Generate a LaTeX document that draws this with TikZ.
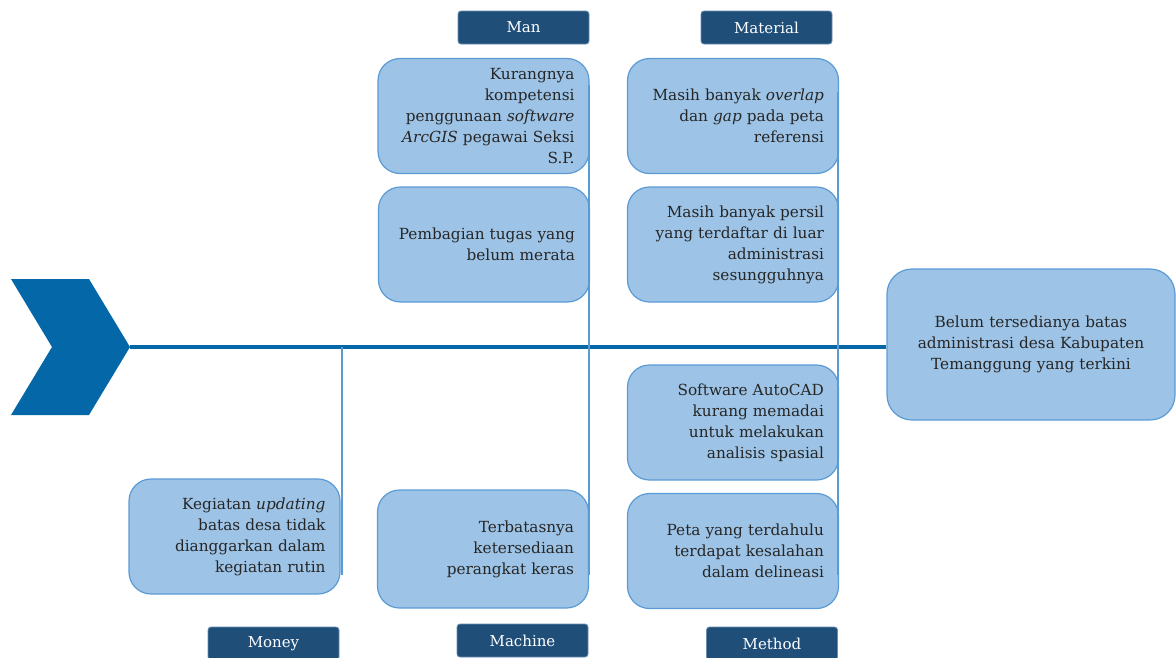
\documentclass[tikz,border=0pt]{standalone}
\usepackage{fontspec}
\setmainfont{DejaVu Serif}
\definecolor{boxfill}{HTML}{9DC3E6}
\definecolor{boxline}{HTML}{5B9BD5}
\definecolor{catfill}{HTML}{1F4E79}
\definecolor{catline}{HTML}{6A8DB0}
\definecolor{spine}{HTML}{0467A8}
\definecolor{txt}{HTML}{262626}
\begin{document}
\begin{tikzpicture}[x=1pt,y=-1pt,
  cause/.style={draw=boxline, line width=1.2pt, fill=boxfill, rounded corners=22pt,
    minimum height=115pt, text width=182pt, inner xsep=14.5pt, inner ysep=2pt,
    align=right, text=txt, font=\fontsize{15.3}{21}\selectfont},
  effectbox/.style={draw=boxline, line width=1.2pt, fill=boxfill, rounded corners=25pt,
    minimum height=151pt, text width=272pt, inner xsep=8pt, align=center, text=txt,
    font=\fontsize{15.3}{21}\selectfont},
  cat/.style={draw=catline, line width=0.8pt, fill=catfill, rounded corners=3pt,
    minimum width=131pt, minimum height=33pt, inner sep=0pt, text=white,
    font=\fontsize{15}{18}\selectfont},
  bone/.style={draw=boxline, line width=1.6pt}
]
\useasboundingbox (0,0) rectangle (1176,657);
\clip (0,0) rectangle (1176,657);
% head chevron
\fill[spine] (11,279) -- (89,279) -- (130,347) -- (89,415) -- (11,415) -- (52,347) -- cycle;
\coordinate (tip) at (130,347);
% effect
\node[effectbox] (effect) at (1031,344.5) {Belum tersedianya batas\\administrasi desa Kabupaten\\Temanggung yang terkini};
% spine
\draw[spine, line width=4.5pt] (tip) -- (tip -| effect.west);
% bones
\coordinate (manTop) at (589,85);
\coordinate (matTop) at (838,92);
\coordinate (metBot) at (838,575);
\coordinate (macBot) at (589,575);
\coordinate (monBot) at (342,575);
% cause boxes
\node[cause] (man1) at (483.5,116) {Kurangnya\\kompetensi\\penggunaan \textit{software}\\\textit{ArcGIS} pegawai Seksi\\S.P.};
\node[cause] (man2) at (484,244.5) {Pembagian tugas yang\\belum merata};
\node[cause] (mat1) at (733,116) {Masih banyak \textit{overlap}\\dan \textit{gap} pada peta\\referensi};
\node[cause] (mat2) at (733,244.5) {Masih banyak persil\\yang terdaftar di luar\\administrasi\\sesungguhnya};
\node[cause] (met1) at (733,422.5) {Software AutoCAD\\kurang memadai\\untuk melakukan\\analisis spasial};
\node[cause] (met2) at (733,551) {Peta yang terdahulu\\terdapat kesalahan\\dalam delineasi};
\node[cause, minimum height=118pt] (mach) at (483,549) {Terbatasnya\\ketersediaan\\perangkat keras};
\node[cause] (money) at (234.5,536.5) {Kegiatan \textit{updating}\\batas desa tidak\\dianggarkan dalam\\kegiatan rutin};
% bone lines
\draw[bone] (manTop) -- (manTop |- tip);
\draw[bone] (matTop) -- (matTop |- tip);
\draw[bone] (metBot |- tip) -- (metBot);
\draw[bone] (macBot |- tip) -- (macBot);
\draw[bone] (monBot |- tip) -- (monBot);
% category labels
\node[cat] (catMan) at (523.5,27.5) {Man};
\node[cat] (catMat) at (766.5,27.5) {Material};
\node[cat] (catMoney) at (273.5,643.5) {Money};
\node[cat] (catMach) at (522.5,640.5) {Machine};
\node[cat] (catMet) at (772,643.5) {Method};
\end{tikzpicture}
\end{document}
